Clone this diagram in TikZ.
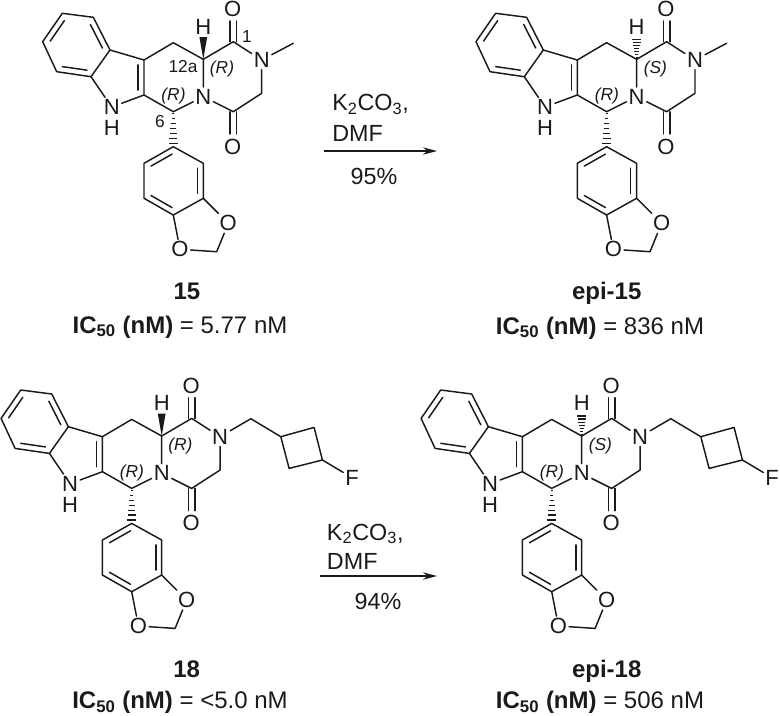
\documentclass[tikz,border=0pt]{standalone}
\usepackage{fontspec}
\setmainfont{Liberation Sans}
\usetikzlibrary{calc,arrows.meta}
\definecolor{ink}{HTML}{1A1A1A}
\tikzset{
  chem/.style={x=0.75pt,y=-0.75pt,color=ink},
  bond/.style={line width=1.1pt,line cap=round},
  atom/.style={font=\fontsize{16.5}{18}\selectfont,inner sep=1.4pt,text=ink},
  stereo/.style={font=\itshape\fontsize{13}{15}\selectfont,inner sep=0pt,text=ink},
  locant/.style={font=\fontsize{13}{15}\selectfont,inner sep=0pt,text=ink},
  rtext/.style={font=\fontsize{17.5}{20}\selectfont,inner sep=0pt,anchor=base west,text=ink},
  rmid/.style={font=\fontsize{17.5}{20}\selectfont,inner sep=0pt,anchor=base,text=ink},
  cmpd/.style={font=\bfseries\fontsize{18}{20}\selectfont,inner sep=0pt,anchor=base,text=ink},
  assay/.style={font=\fontsize{18}{20}\selectfont,inner sep=0pt,anchor=base,text=ink},
  rxn/.style={line width=1.1pt,-{Stealth[length=10.5pt,width=5.5pt]},draw=ink},
}
% inner line of a double bond
\newcommand\dblb[2]{\draw[bond] ($(#1)!.14!(#2)!4.4pt!-90:(#2)$) -- ($(#1)!.86!(#2)!4.4pt!-90:(#2)$);}
% exocyclic C=O
\newcommand\cdo[2]{\draw[bond] ($(#1)!2.4pt!90:(#2)$) -- ($(#2)!2.4pt!-90:(#1)$);
  \draw[bond] ($(#1)!2.4pt!-90:(#2)$) -- ($(#2)!2.4pt!90:(#1)$);}
% hashed bond, narrow at #1
\newcommand\hashb[2]{\foreach \t in {0.06,0.2,0.34,0.48,0.62,0.76,0.9}{%
  \pgfmathsetmacro\wd{0.5+\t*3.4}%
  \draw[line width=0.9pt,draw=ink] ($(#1)!\t!(#2)!\wd pt!90:(#2)$) -- ($(#1)!\t!(#2)!\wd pt!-90:(#2)$);}}
% solid wedge, narrow at #1
\newcommand\wedgeb[2]{\fill[ink] (#1) -- ($(#2)!2.9pt!90:(#1)$) -- ($(#2)!2.9pt!-90:(#1)$) -- cycle;}
% common skeleton: #1 = bond to the 12a H, #2 = descriptor at 12a
\newcommand\molcore[2]{%
  \coordinate (a1) at (62.3,13.3);
  \coordinate (a2) at (93.3,17.3);
  \coordinate (a3) at (110,50);
  \coordinate (a4) at (91,76.7);
  \coordinate (a5) at (56.7,71.7);
  \coordinate (a6) at (42.7,41.7);
  \coordinate (b1) at (144,60);
  \coordinate (b2) at (144,95);
  \coordinate (c1) at (173.3,42.7);
  \coordinate (c2) at (203.3,59.3);
  \coordinate (c3) at (173.3,111.7);
  \coordinate (d1) at (233.3,41.7);
  \coordinate (d2) at (261.7,93.3);
  \coordinate (d3) at (233.3,111.7);
  \coordinate (o1e) at (233.3,21);
  \coordinate (o2e) at (233.3,134);
  \coordinate (he) at (203.3,37);
  \coordinate (e1) at (173.3,146.7);
  \coordinate (e2) at (203.3,163.3);
  \coordinate (e3) at (203.3,198.3);
  \coordinate (e4) at (173.3,215);
  \coordinate (e5) at (144,198.3);
  \coordinate (e6) at (144,163.3);
  \coordinate (ch) at (216.7,251.7);
  \node[atom] (nh) at (111.7,107) {N};
  \node[atom] (hh) at (111.7,128) {H};
  \node[atom] (n1) at (203.3,96.7) {N};
  \node[atom] (n2) at (261.7,60) {N};
  \node[atom] (o1) at (232.7,9.3) {O};
  \node[atom] (o2) at (232.7,146.7) {O};
  \node[atom] (h12) at (203.3,26.7) {H};
  \node[atom] (o3) at (228.3,223.3) {O};
  \node[atom] (o4) at (180,249.3) {O};
  \draw[bond] (a1)--(a2) (a2)--(a3) (a3)--(a4) (a4)--(a5) (a5)--(a6) (a6)--(a1);
  \dblb{a6}{a1}\dblb{a2}{a3}\dblb{a4}{a5}
  \draw[bond] (a3)--(b1) (b1)--(b2) (b2)--(nh) (nh)--(a4);
  \dblb{b1}{b2}
  \draw[bond] (b1)--(c1) (c1)--(c2) (c2)--(n1) (n1)--(c3) (c3)--(b2);
  \draw[bond] (c2)--(d1) (d1)--(n2) (n2)--(d2) (d2)--(d3) (d3)--(n1);
  \cdo{d1}{o1e}\cdo{d3}{o2e}
  #1{c2}{he}
  \hashb{c3}{e1}
  \draw[bond] (e1)--(e2) (e2)--(e3) (e3)--(e4) (e4)--(e5) (e5)--(e6) (e6)--(e1);
  \dblb{e2}{e3}\dblb{e4}{e5}\dblb{e6}{e1}
  \draw[bond] (e3)--(o3) (o3)--(ch) (ch)--(o4) (o4)--(e4);
  \node[stereo] (s12) at (222,69.5) {(#2)};
  \node[stereo] (s6) at (173.5,96) {(R)};
}
\newcommand\methyl{%
  \coordinate (me) at (293.3,43.3);
  \draw[bond] (n2)--(me);
}
\newcommand\sidechain{%
  \coordinate (f1) at (292.4,42);
  \coordinate (f2) at (322.4,60);
  \coordinate (g1) at (355.7,50.7);
  \coordinate (g2) at (364,83.3);
  \coordinate (g3) at (330.7,91.7);
  \node[atom] (ff) at (393.7,101) {F};
  \draw[bond] (n2)--(f1) (f1)--(f2) (f2)--(g1) (g1)--(g2) (g2)--(g3) (g3)--(f2) (g2)--(ff);
}
\begin{document}
\begin{tikzpicture}[chem]
\useasboundingbox (0,0) rectangle (780,715);
% compound 15
\begin{scope}[name prefix=m1-]
  \molcore{\wedgeb}{R}
  \methyl
  \node[locant] (l1) at (247,37) {1};
  \node[locant] (l12) at (183,67) {12a};
  \node[locant] (l6) at (160,122) {6};
\end{scope}
% epi-15
\begin{scope}[shift={(433.3,0)},name prefix=m2-]
  \molcore{\hashb}{S}
  \methyl
\end{scope}
% compound 18
\begin{scope}[shift={(-41.6,376.7)},name prefix=m3-]
  \molcore{\wedgeb}{R}
  \sidechain
\end{scope}
% epi-18
\begin{scope}[shift={(378.4,376.7)},name prefix=m4-]
  \molcore{\hashb}{S}
  \sidechain
\end{scope}
% reactions
\coordinate (r1a) at (324,151);
\coordinate (r1b) at (437,151);
\draw[rxn] (r1a) -- (r1b);
\node[rtext] (r1t1) at (332,110.7) {K\textsubscript{2}CO\textsubscript{3},};
\node[rtext] (r1t2) at (332,141.7) {DMF};
\node[rmid] (r1y) at (374,184) {95\%};
\coordinate (r2a) at (320,576);
\coordinate (r2b) at (437,576);
\draw[rxn] (r2a) -- (r2b);
\node[rtext] (r2t1) at (326.7,540) {K\textsubscript{2}CO\textsubscript{3},};
\node[rtext] (r2t2) at (326.7,569) {DMF};
\node[rmid] (r2y) at (378,609) {94\%};
% captions
\node[cmpd] (c15) at (187,299) {15};
\node[assay] (ic15) at (180,333) {\textbf{IC\textsubscript{50} (nM)} = 5.77 nM};
\node[cmpd] (ce15) at (606.7,299) {epi-15};
\node[assay] (ice15) at (600,334) {\textbf{IC\textsubscript{50} (nM)} = 836 nM};
\node[cmpd] (c18) at (186.7,677) {18};
\node[assay] (ic18) at (180,708.5) {\textbf{IC\textsubscript{50} (nM)} = <5.0 nM};
\node[cmpd] (ce18) at (606.7,677.7) {epi-18};
\node[assay] (ice18) at (600,708.5) {\textbf{IC\textsubscript{50} (nM)} = 506 nM};
\end{tikzpicture}
\end{document}
